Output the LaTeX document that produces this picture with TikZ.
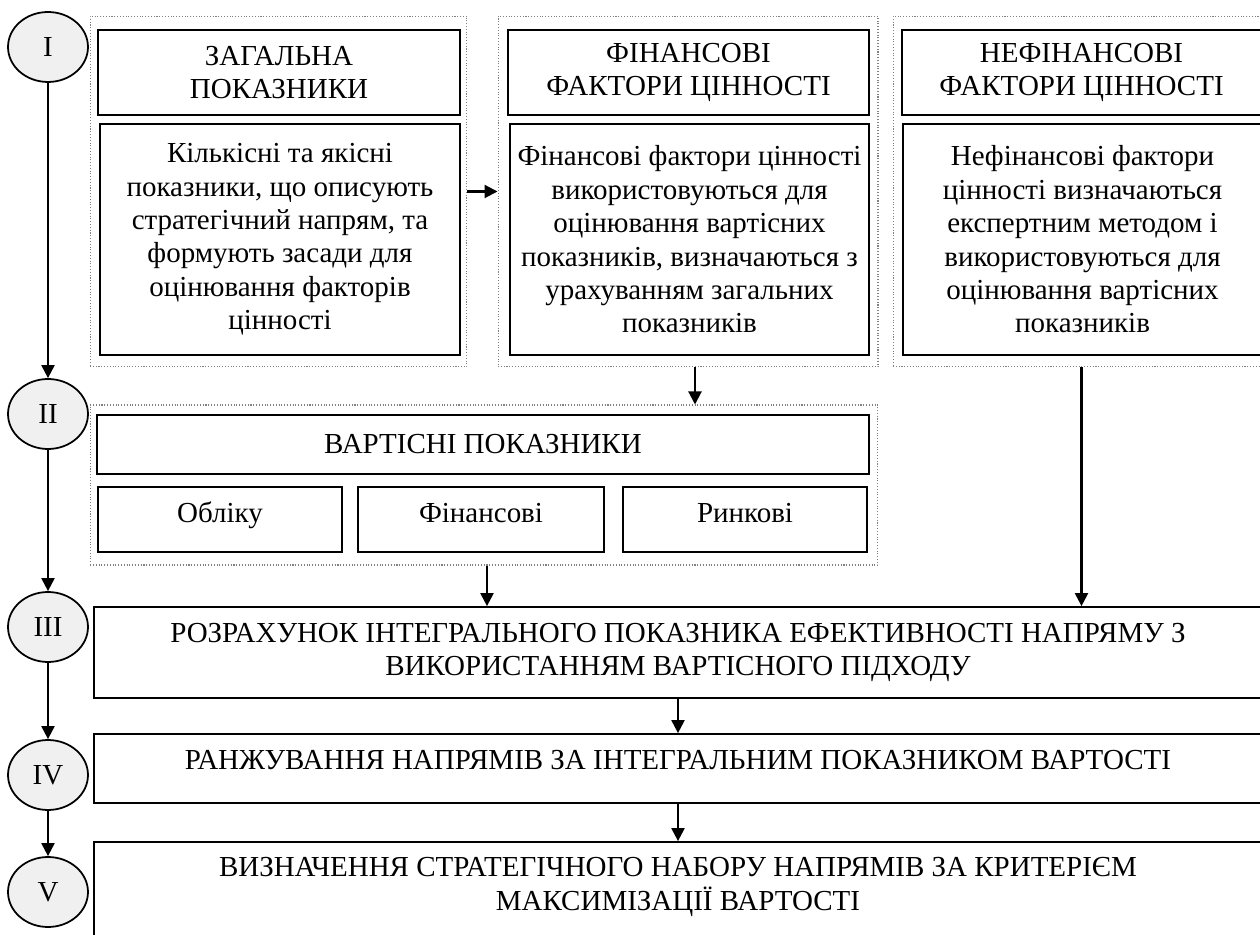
\documentclass[tikz,border=0pt]{standalone}
\usepackage{fontspec}
\setmainfont{Liberation Serif}
\usetikzlibrary{shapes.geometric,arrows.meta}
\definecolor{stagegray}{RGB}{240,240,240}
\tikzset{
  stage/.style={draw, ellipse, fill=stagegray, line width=1pt, minimum width=1.6cm, minimum height=1.4cm, inner sep=0pt},
  box/.style={draw, rectangle, line width=1pt, align=center, inner sep=2pt},
  sub/.style={box, minimum height=1.3cm, text height=0.42cm, text depth=0.3cm},
  group/.style={draw=gray, densely dotted, line width=0.6pt, rectangle, inner sep=0pt},
  arr/.style={line width=1.2pt, -{Triangle[length=2.6mm,width=2.6mm]}}
}
\begin{document}
\begin{tikzpicture}[x=0.02cm, y=-0.02cm, font=\fontsize{16.5}{19}\selectfont]
\useasboundingbox (0,0) rectangle (1260,935);

\node[group, minimum width=7.54cm, minimum height=7.02cm] (g1) at (278.5,191.5) {};
\node[group, minimum width=7.6cm, minimum height=7.02cm] (g2) at (688,191.5) {};
\node[group, minimum width=7.54cm, minimum height=7.02cm] (g3) at (1081.5,191.5) {};
\node[group, minimum width=15.76cm, minimum height=3.2cm] (g4) at (484,485) {};

\node[stage] (s1) at (48,47) {I};
\node[stage] (s2) at (48,414) {II};
\node[stage] (s3) at (48,627) {III};
\node[stage] (s4) at (48,775) {IV};
\node[stage] (s5) at (48,892) {V};

\node[box, minimum width=7.24cm, minimum height=1.7cm] (h1) at (279,72.5) {ЗАГАЛЬНА\\ПОКАЗНИКИ};
\node[box, minimum width=7.2cm, minimum height=4.62cm] (b1) at (280,239.5) {Кількісні та якісні\\показники, що описують\\стратегічний напрям, та\\формують засади для\\оцінювання факторів\\цінності};
\node[box, minimum width=7.22cm, minimum height=1.7cm] (h2) at (688.5,72.5) {ФІНАНСОВІ\\ФАКТОРИ ЦІННОСТІ};
\node[box, minimum width=7.18cm, minimum height=4.62cm] (b2) at (689.5,239.5) {Фінансові фактори цінності\\використовуються для\\оцінювання вартісних\\показників, визначаються з\\урахуванням загальних\\показників};
\node[box, minimum width=7.18cm, minimum height=1.7cm] (h3) at (1081.5,72.5) {НЕФІНАНСОВІ\\ФАКТОРИ ЦІННОСТІ};
\node[box, minimum width=7.18cm, minimum height=4.62cm] (b3) at (1082.5,239.5) {Нефінансові фактори\\цінності визначаються\\експертним методом і\\використовуються для\\оцінювання вартісних\\показників};

\node[box, minimum width=15.44cm, minimum height=1.18cm] (h4) at (483,444.5) {ВАРТІСНІ ПОКАЗНИКИ};
\node[sub, minimum width=4.88cm] (c1) at (220,519.5) {Обліку};
\node[sub, minimum width=4.92cm] (c2) at (481,519.5) {Фінансові};
\node[sub, minimum width=4.88cm] (c3) at (745,519.5) {Ринкові};

\node[box, minimum width=23.36cm, minimum height=1.82cm] (r1) at (678,652.5) {РОЗРАХУНОК ІНТЕГРАЛЬНОГО ПОКАЗНИКА ЕФЕКТИВНОСТІ НАПРЯМУ З\\ВИКОРИСТАННЯМ ВАРТІСНОГО ПІДХОДУ};
\node[box, minimum width=23.36cm, minimum height=1.38cm, text depth=0.34cm] (r2) at (678,768.5) {РАНЖУВАННЯ НАПРЯМІВ ЗА ІНТЕГРАЛЬНИМ ПОКАЗНИКОМ ВАРТОСТІ};
\node[box, minimum width=23.36cm, minimum height=2.06cm, text depth=0.38cm] (r3) at (678,893.5) {ВИЗНАЧЕННЯ СТРАТЕГІЧНОГО НАБОРУ НАПРЯМІВ ЗА КРИТЕРІЄМ\\МАКСИМІЗАЦІЇ ВАРТОСТІ};

\path[draw,arr] (s1) -- (s2);
\path[draw,arr] (s2) -- (s3);
\path[draw,arr] (s3) -- (s4);
\path[draw,arr] (s4) -- (s5);
\path[draw,arr] (g1.east) -- (g2.west);
\path[draw,arr] ([xshift=0.14cm]g2.south) -- ([xshift=0.14cm]g2.south |- g4.north);
\path[draw,arr] ([xshift=0.06cm]g4.south) -- ([xshift=0.06cm]g4.south |- r1.north);
\path[draw,arr] (g3.south) -- (g3.south |- r1.north);
\path[draw,arr] (r1) -- (r2);
\path[draw,arr] (r2) -- (r3);
\end{tikzpicture}
\end{document}
